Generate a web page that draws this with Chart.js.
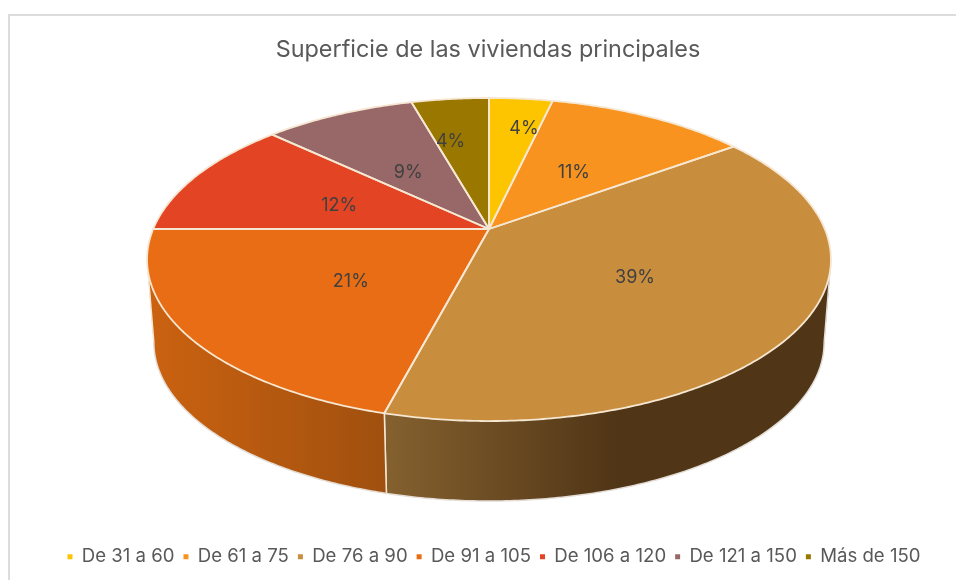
<!DOCTYPE html>
<html lang="es">
<head>
<meta charset="utf-8">
<title>Superficie de las viviendas principales</title>
<script src="https://cdn.jsdelivr.net/npm/chart.js@4"></script>
<style>
    html, body { margin: 0; padding: 0; background: #fff; overflow: hidden; }
    #frame { position: absolute; left: 8px; top: 14px; width: 960px; height: 580px; border: 2px solid #dcdcdc; }
    #chart { position: absolute; left: 0; top: 0; }
</style>
</head>
<body>
<div id="frame"></div>
<canvas id="chart" width="956" height="580"></canvas>
<script>
// data
const categories = ['De 31 a 60', 'De 61 a 75', 'De 76 a 90', 'De 91 a 105', 'De 106 a 120', 'De 121 a 150', 'Más de 150'];
const shares = [3.6, 11.4, 39.1, 20.9, 12.0, 8.6, 4.4];
const sliceColors = ['#fcc500', '#f7931e', '#c98d3e', '#e96d14', '#e34524', '#986868', '#9a7800'];

// wall shading, [position along x, colour]
const wallShades = {
    2: [[0, '#85612f'], [0.52, '#503516'], [1, '#503516']],
    3: [[0, '#cb6210'], [1, '#a0500f']]
};
// how far each percentage sits from the hub, and a small nudge
const labelRadius = [0.75, 0.5, 0.45, 0.47, 0.5, 0.5, 0.75];
const labelNudge = [[10, 1], [-1, 4], [15, 7], [-6, 5], [1, 4], [0, 5], [-8, 14]];

// view of the disc: perspective circle to screen
const view = { hubX: 489, hubY: 229, spanX: 335.8, spanY: 112.5, tilt: -0.1889, vanishY: 4420, shrink: 0.98, edge: '#f6e7d2' };

function project(theta, r) {
    const u = Math.sin(theta) * r;
    const v = -Math.cos(theta) * r;
    const w = 1 + view.tilt * v;
    return { x: view.hubX + view.spanX * u / w, y: (view.hubY + view.spanY * v) / w };
}

function lower(p) {
    return {
        x: view.hubX + view.shrink * (p.x - view.hubX),
        y: view.vanishY + view.shrink * (p.y - view.vanishY)
    };
}

function samples(a, b) {
    const n = Math.max(2, Math.ceil(Math.abs(b - a) / 0.01));
    const out = [];
    for (let i = 0; i <= n; i++) out.push(a + (b - a) * i / n);
    return out;
}

const disc3d = {
    id: 'disc3d',
    // legend sits a little right of the title in the reference
    afterLayout(chart) {
        chart.legend.left += 6;
        chart.legend.right += 6;
    },
    // the arcs come from the pie controller, only their path is replaced
    beforeDatasetDraw(chart, args) {
        const ctx = chart.ctx;
        const arcs = chart.getDatasetMeta(args.index).data;
        const angles = arcs.map(a => [a.startAngle + Math.PI / 2, a.endAngle + Math.PI / 2]);
        const thetaR = Math.acos(view.tilt);
        const thetaL = 2 * Math.PI - thetaR;

        ctx.save();
        ctx.lineJoin = 'round';

        // side wall
        angles.forEach(([a, b], i) => {
            const from = Math.max(a, thetaR);
            const to = Math.min(b, thetaL);
            if (to <= from) return;
            const ts = samples(from, to);
            const top = ts.map(t => project(t, 1));
            const bot = top.map(lower);
            const xs = top.concat(bot).map(p => p.x);
            const x0 = Math.min(...xs);
            const x1 = Math.max(...xs);
            const grad = ctx.createLinearGradient(x0, 0, x1, 0);
            (wallShades[i] || [[0, sliceColors[i]], [1, sliceColors[i]]]).forEach(s => grad.addColorStop(s[0], s[1]));
            ctx.beginPath();
            for (let k = 0; k < ts.length - 1; k++) {
                let quad = [top[k], top[k + 1], bot[k + 1], bot[k]];
                let area = 0;
                quad.forEach((p, j) => {
                    const q = quad[(j + 1) % 4];
                    area += p.x * q.y - q.x * p.y;
                });
                if (area < 0) quad = quad.reverse();
                ctx.moveTo(quad[0].x, quad[0].y);
                quad.slice(1).forEach(p => ctx.lineTo(p.x, p.y));
                ctx.closePath();
            }
            ctx.fillStyle = grad;
            ctx.fill();

            // outline of the wall
            ctx.beginPath();
            bot.forEach((p, k) => k ? ctx.lineTo(p.x, p.y) : ctx.moveTo(p.x, p.y));
            ctx.strokeStyle = '#e4ddd6';
            ctx.lineWidth = 1.5;
            ctx.stroke();
            ctx.beginPath();
            [0, top.length - 1].forEach(k => {
                ctx.moveTo(top[k].x, top[k].y);
                ctx.lineTo(bot[k].x, bot[k].y);
            });
            ctx.strokeStyle = a > thetaR && from === a ? view.edge : '#e4ddd6';
            ctx.stroke();
        });

        // top faces
        angles.forEach(([a, b], i) => {
            ctx.beginPath();
            ctx.moveTo(view.hubX, view.hubY);
            samples(a, b).forEach(t => {
                const p = project(t, 1);
                ctx.lineTo(p.x, p.y);
            });
            ctx.closePath();
            ctx.fillStyle = sliceColors[i];
            ctx.fill();
        });
        angles.forEach(([a, b]) => {
            ctx.beginPath();
            ctx.moveTo(view.hubX, view.hubY);
            samples(a, b).forEach(t => {
                const p = project(t, 1);
                ctx.lineTo(p.x, p.y);
            });
            ctx.closePath();
            ctx.strokeStyle = view.edge;
            ctx.lineWidth = 1.8;
            ctx.stroke();
        });
        ctx.restore();
        return false;
    },
    afterDatasetsDraw(chart) {
        const ctx = chart.ctx;
        const arcs = chart.getDatasetMeta(0).data;
        const total = shares.reduce((sum, v) => sum + v, 0);
        ctx.save();
        ctx.font = '18px Inter, sans-serif';
        ctx.fillStyle = '#404040';
        ctx.textAlign = 'center';
        ctx.textBaseline = 'middle';
        arcs.forEach((arc, i) => {
            const mid = (arc.startAngle + arc.endAngle) / 2 + Math.PI / 2;
            const p = project(mid, labelRadius[i]);
            ctx.fillText(Math.round(shares[i] / total * 100) + '%', p.x + labelNudge[i][0], p.y + labelNudge[i][1]);
        });
        ctx.restore();
    }
};

new Chart(document.getElementById('chart').getContext('2d'), {
    type: 'pie',
    data: {
        labels: categories,
        datasets: [{ data: shares, backgroundColor: sliceColors, borderWidth: 0 }]
    },
    options: {
        responsive: false,
        animation: false,
        layout: { padding: { left: 20, top: 14, bottom: 4 } },
        plugins: {
            tooltip: { enabled: false },
            title: {
                display: true,
                text: 'Superficie de las viviendas principales',
                color: '#595959',
                font: { family: 'Inter, sans-serif', size: 23.4, weight: 'normal' },
                padding: { top: 22, bottom: 8 }
            },
            legend: {
                position: 'bottom',
                labels: {
                    usePointStyle: true,
                    pointStyle: 'rect',
                    boxWidth: 5,
                    boxHeight: 5,
                    padding: 9,
                    color: '#595959',
                    font: { family: 'Inter, sans-serif', size: 18.6 }
                }
            }
        }
    },
    plugins: [disc3d]
});
</script>
</body>
</html>
